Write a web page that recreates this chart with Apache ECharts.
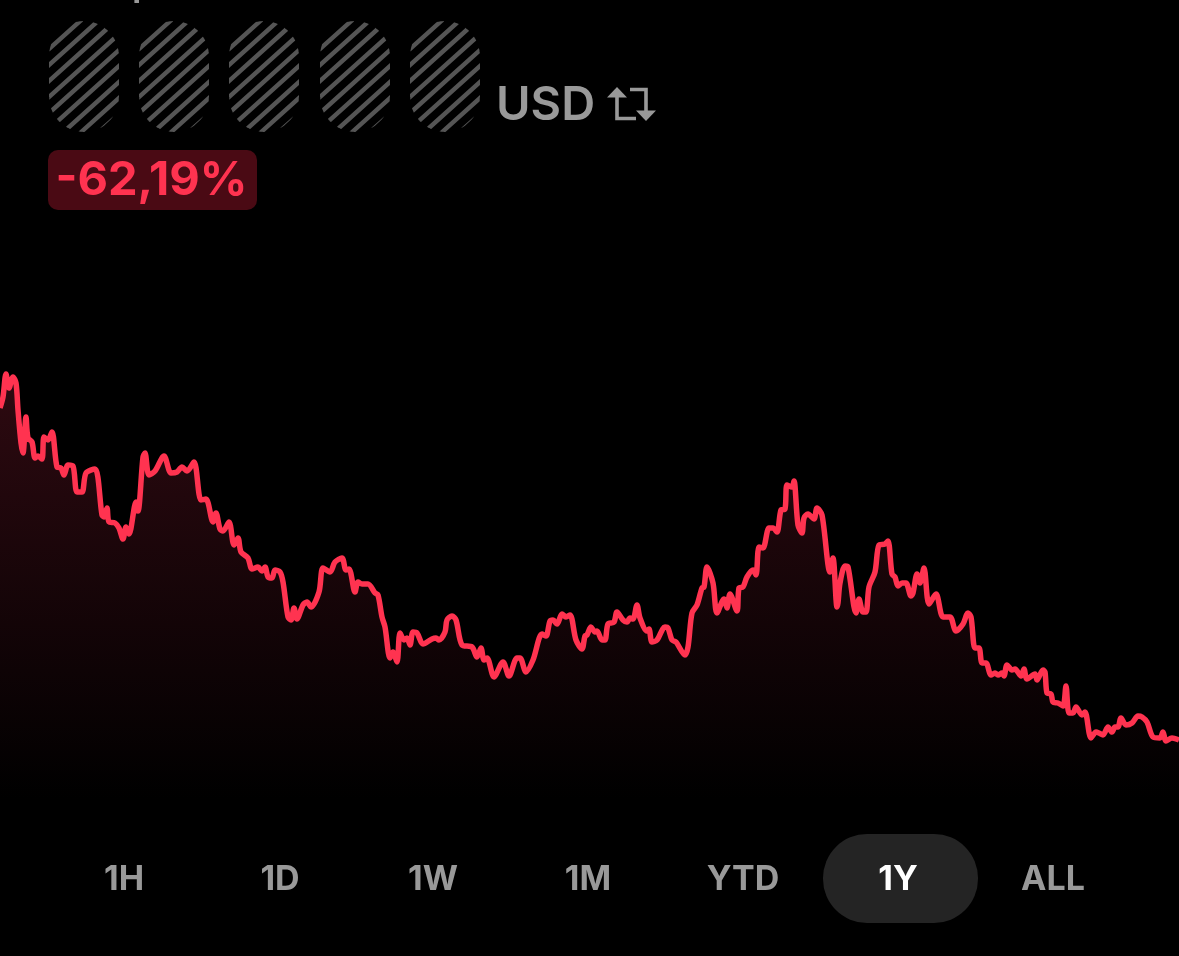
<!DOCTYPE html>
<html><head><meta charset="utf-8">
<style>html,body{margin:0;padding:0;background:#000}#c{width:1179px;height:956px}</style>
<script src="https://cdn.jsdelivr.net/npm/echarts@6/dist/echarts.min.js"></script>
</head><body><div id="c"></div>
<script>
const times = [0,3,6,9,13,16,18,21,23,26,28,32,35,38,42,44,48,52,57,61,64,68,73,77,82,86,95,102,104,107,109,115,119,123,126,129,136,138,143,145,149,155,164,171,177,182,187,194,201,206,213,216,220,223,229,234,238,241,248,252,258,262,265,268,272,275,280,283,288,291,294,297,303,307,311,319,323,330,335,342,346,349,355,358,362,368,375,378,382,385,390,393,397,400,404,407,410,413,417,423,432,436,439,445,447,452,456,462,472,477,481,484,487,494,503,509,517,520,526,533,542,546,550,553,557,562,566,570,576,582,585,587,591,595,597,602,605,608,614,617,623,627,630,633,637,640,647,649,652,657,665,668,672,676,685,688,692,697,702,704,707,713,717,724,727,730,737,739,743,747,753,756,759,763,769,773,777,781,785,787,792,794,798,802,804,808,814,817,822,830,833,837,838,840,845,848,856,859,863,866,869,875,879,885,888,892,895,898,902,906,911,913,917,920,924,929,936,943,950,956,963,968,971,975,979,982,986,991,995,998,1002,1004,1007,1012,1015,1021,1024,1027,1035,1037,1043,1045,1047,1051,1053,1058,1063,1066,1069,1073,1076,1082,1085,1091,1096,1099,1103,1108,1112,1115,1118,1121,1126,1132,1138,1142,1147,1153,1160,1163,1166,1172,1179];
const prices = [392,403,426,412,423,417,390,357,347,383,362,358,342,344,341,363,360,368,333,332,325,335,334,308,308,327,331,285,283,292,278,277,272,261,273,266,298,289,343,347,325,329,344,327,328,333,329,338,300,301,278,287,271,269,278,255,262,248,242,231,233,229,233,223,222,230,228,218,183,180,192,181,195,198,193,208,232,228,238,242,230,231,208,218,216,216,207,205,183,173,142,148,138,167,160,162,155,168,167,156,161,162,160,168,180,184,180,155,153,143,152,140,142,123,138,124,142,142,128,140,166,164,179,180,176,186,183,185,160,151,164,165,173,168,169,160,160,176,178,188,180,178,182,181,195,182,169,171,158,160,173,172,160,158,145,153,187,195,212,213,233,217,187,201,192,206,189,212,213,223,230,225,253,252,272,272,268,290,291,315,313,319,275,267,282,286,281,292,285,228,242,193,197,217,234,233,187,201,188,188,213,228,255,256,259,226,223,214,217,217,204,207,226,217,232,196,206,183,183,169,176,187,183,152,152,137,137,125,127,125,127,124,135,130,131,124,131,121,126,120,130,128,107,106,98,97,94,114,87,87,93,85,88,62,68,67,65,73,68,73,73,82,75,77,84,83,78,63,62,68,59,62,60];
const ranges = ['1H','1D','1W','1M','YTD','1Y','ALL'];
const activeRange = '1Y';
const currency = 'USD';
const changeLabel = '-62,19%';
const rangeCenters = [124,280,433,588,743,898,1053];
const pillLefts = [49,139,229,320,410];

const FONT = 'Inter, "Noto Sans", sans-serif';
const RED = '#ff3350', GREY = '#999999';

const graphics = [];

// hatched pills (masked digits): diagonal bands clipped to a rounded rectangle
const PILL_W = 70, PILL_H = 111, PILL_Y = 21, PILL_R = 35;
const SLOPE = 0.9, PERIOD = 16, BAND = 3;
function inPill(px, py) {
  if (px < 0 || px > PILL_W || py < 0 || py > PILL_H) return false;
  const cy = py < PILL_R ? PILL_R : (py > PILL_H - PILL_R ? PILL_H - PILL_R : py);
  const dx = px - PILL_R, dy = py - cy;
  return dx * dx + dy * dy <= PILL_R * PILL_R;
}
function chord(c) {
  let first = null, last = null;
  for (let px = 0; px <= PILL_W; px += 0.25) {
    const py = c - SLOPE * px;
    if (inPill(px, py)) { if (!first) first = [px, py]; last = [px, py]; }
  }
  return first ? [first, last] : null;
}
pillLefts.forEach(left => {
  for (let c = 44 - 3 * PERIOD; c < PILL_H + SLOPE * PILL_W + PERIOD; c += PERIOD) {
    const starts = [], ends = [];
    for (let d = -BAND; d <= BAND + 0.001; d += 0.4) {
      const e = chord(c + d);
      if (e) { starts.push(e[0]); ends.push(e[1]); }
    }
    if (!starts.length) continue;
    const pts = starts.concat(ends.reverse()).map(p => [left + p[0], PILL_Y + p[1]]);
    graphics.push({type:'polygon', silent:true, shape:{points:pts}, style:{fill:'#555555'}});
  }
});

const txt = (text, x, y, fill, font, align) => ({type:'text', silent:true,
  style:{text, x, y, fill, font, align:align||'center', verticalAlign:'middle'}});

graphics.push(txt('p', 132, -15, GREY, '600 36px '+FONT, 'left'));
graphics.push(txt(currency, 496, 106, GREY, '600 47px '+FONT, 'left'));
// swap icon
const ic = {stroke:GREY, lineWidth:3.6, fill:'none', lineJoin:'miter'};
graphics.push({type:'polyline', silent:true, shape:{points:[[617,95],[617,118.5],[636,118.5]]}, style:ic});
graphics.push({type:'polyline', silent:true, shape:{points:[[630,89.5],[646,89.5],[646,113]]}, style:ic});
graphics.push({type:'polygon', silent:true, shape:{points:[[617,87],[627,97.5],[607,97.5]]}, style:{fill:GREY}});
graphics.push({type:'polygon', silent:true, shape:{points:[[646,121],[636,110.5],[656,110.5]]}, style:{fill:GREY}});
// change badge
graphics.push({type:'rect', silent:true, shape:{x:48,y:150,width:209,height:60,r:10}, style:{fill:'#4a0a14'}});
graphics.push(txt(changeLabel, 151.5, 181, RED, '700 47px '+FONT));
// range selector
graphics.push({type:'rect', silent:true, shape:{x:823,y:834,width:155,height:89,r:44}, style:{fill:'#242424'}});
ranges.forEach((r,i) => graphics.push(txt(r, rangeCenters[i], 880, r===activeRange?'#ffffff':GREY, '700 34px '+FONT)));

const chart = echarts.init(document.getElementById('c'), null, {renderer:'canvas', width:1179, height:956});
chart.setOption({
  backgroundColor:'#000000',
  animation:false,
  grid:{left:0,right:0,top:350,bottom:156},
  xAxis:{type:'value',min:0,max:1179,show:false},
  yAxis:{type:'value',min:0,max:450,show:false},
  series:[{
    type:'line',
    data:times.map((t,i)=>[t,prices[i]]),
    smooth:0.3,
    showSymbol:false,
    lineStyle:{color:RED,width:5.5,join:'round'},
    areaStyle:{color:new echarts.graphic.LinearGradient(0,0,0,1,[
      {offset:0,color:'#420e18'},{offset:1,color:'#000000'}])}
  }],
  graphic:graphics
});
</script></body></html>
